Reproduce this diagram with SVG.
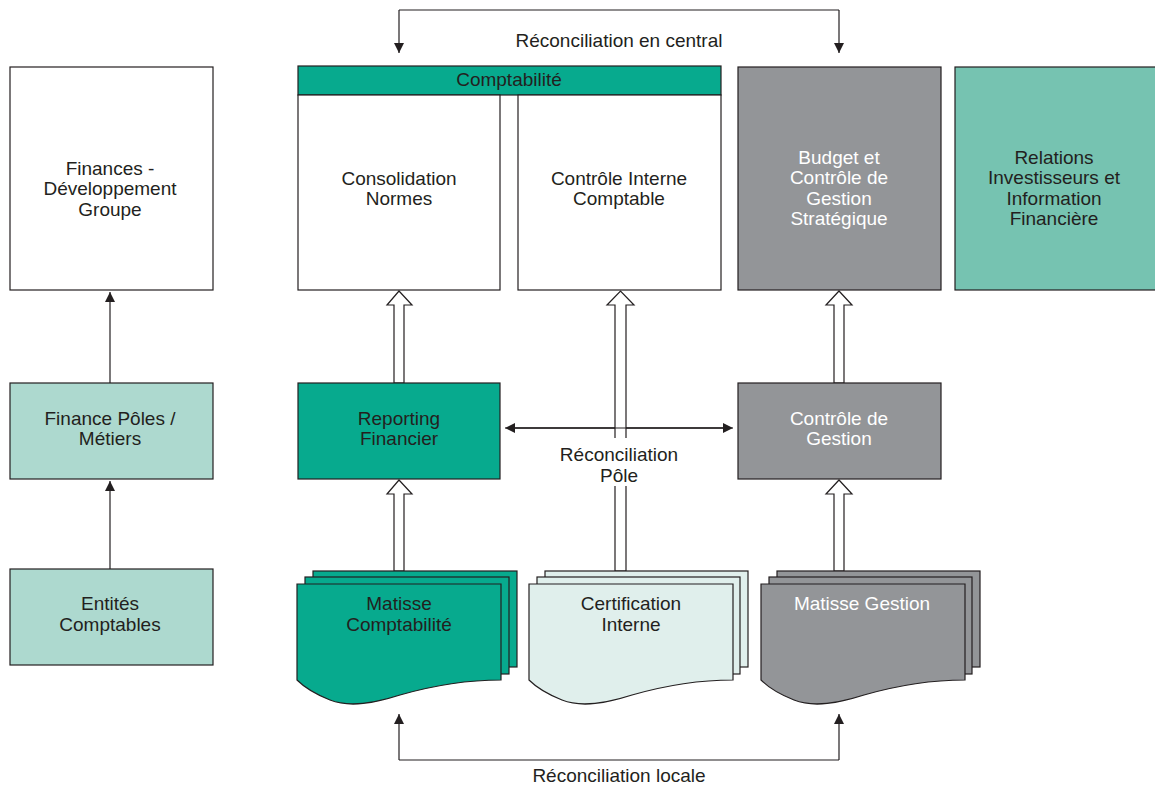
<svg xmlns="http://www.w3.org/2000/svg" width="1155" height="786" viewBox="0 0 1155 786">
<defs>
<style>
.box{stroke:#231F20;stroke-width:1.2}
.w{fill:#FFFFFF}
.teal{fill:#07AA8E}
.lt{fill:#ADD9CF}
.gray{fill:#939598}
.rel{fill:#76C3B1}
.cert{fill:#E0EFEC}
text{font-family:"Liberation Sans",Arial,sans-serif;font-size:19px;fill:#231F20;text-anchor:middle}
text.wt{fill:#FFFFFF}
.ln{stroke:#231F20;stroke-width:1.2;fill:none}
.hollow{fill:#FFFFFF;stroke:#231F20;stroke-width:1.2}
</style>
<marker id="ah" viewBox="0 0 10 10" refX="10" refY="5" markerWidth="10" markerHeight="10" markerUnits="userSpaceOnUse" orient="auto">
<path d="M0,0 L10,5 L0,10 Z" fill="#231F20"/>
</marker>
</defs>

<g id="connectors">
<path class="ln" d="M110,383 V292" marker-end="url(#ah)"/>
<path class="ln" d="M110,569 V481" marker-end="url(#ah)"/>
<path class="ln" d="M399,10 H839"/>
<path class="ln" d="M399,10 V53" marker-end="url(#ah)"/>
<path class="ln" d="M839,10 V53" marker-end="url(#ah)"/>
<path class="ln" d="M399,760 H839"/>
<path class="ln" d="M399,760 V714" marker-end="url(#ah)"/>
<path class="ln" d="M839,760 V714" marker-end="url(#ah)"/>
<path class="ln" d="M515,428 H733" marker-end="url(#ah)"/>
<path class="ln" d="M723,428 H505" marker-end="url(#ah)"/>
<path class="hollow" d="M394,383 V305 H387 L399,291 L412,305 H404 V383 Z"/>
<path class="hollow" d="M394,571 V494 H387 L399,480 L412,494 H404 V571 Z"/>
<path class="hollow" d="M615,571 V305 H607 L620.5,291 L634,305 H626 V571 Z"/>
<path class="hollow" d="M834,383 V305 H826 L839,291 L852,305 H844 V383 Z"/>
<path class="hollow" d="M834,571 V494 H826 L839,480 L852,494 H844 V571 Z"/>
<rect x="555" y="438" width="130" height="48" fill="#FFFFFF"/>
<path class="ln" d="M515,428 H723"/>
<text x="619" y="47">Réconciliation en central</text>
<text x="619" y="782">Réconciliation locale</text>
<text x="619" y="461">Réconciliation</text>
<text x="619" y="482">Pôle</text>
</g>

<g id="finances-dev">
<rect class="box w" x="10" y="67" width="203" height="223"/>
<text x="110" y="175">Finances -</text>
<text x="110" y="195">Développement</text>
<text x="110" y="216">Groupe</text>
</g>
<g id="finance-poles">
<rect class="box lt" x="10" y="383" width="203" height="96"/>
<text x="110" y="425">Finance Pôles /</text>
<text x="110" y="445">Métiers</text>
</g>
<g id="entites">
<rect class="box lt" x="10" y="569" width="203" height="96"/>
<text x="110" y="610">Entités</text>
<text x="110" y="631">Comptables</text>
</g>

<g id="comptabilite">
<rect class="box teal" x="298" y="66" width="423" height="29"/>
<text x="509" y="86">Comptabilité</text>
</g>
<g id="consolidation">
<rect class="box w" x="298" y="95" width="202" height="195"/>
<text x="399" y="185">Consolidation</text>
<text x="399" y="205">Normes</text>
</g>
<g id="controle-interne">
<rect class="box w" x="518" y="95" width="203" height="195"/>
<text x="619" y="185">Contrôle Interne</text>
<text x="619" y="205">Comptable</text>
</g>
<g id="budget">
<rect class="box gray" x="738" y="67" width="203" height="223"/>
<text class="wt" x="839" y="164">Budget et</text>
<text class="wt" x="839" y="184">Contrôle de</text>
<text class="wt" x="839" y="205">Gestion</text>
<text class="wt" x="839" y="225">Stratégique</text>
</g>
<g id="relations">
<rect class="box rel" x="955" y="67" width="203" height="223"/>
<text x="1054" y="164">Relations</text>
<text x="1054" y="184">Investisseurs et</text>
<text x="1054" y="205">Information</text>
<text x="1054" y="225">Financière</text>
</g>

<g id="reporting">
<rect class="box teal" x="298" y="383" width="202" height="96"/>
<text x="399" y="425">Reporting</text>
<text x="399" y="445">Financier</text>
</g>
<g id="controle-gestion">
<rect class="box gray" x="738" y="383" width="203" height="96"/>
<text class="wt" x="839" y="425">Contrôle de</text>
<text class="wt" x="839" y="445">Gestion</text>
</g>

<g id="matisse-compta">
<rect class="box teal" x="313" y="571" width="204" height="96"/>
<rect class="box teal" x="305" y="577" width="204" height="97"/>
<path class="box teal" d="M297,584 H501 V680 C470,680 435,685 400,695 C375,703 350,708 330,700 C315,694 303,686 297,680 Z"/>
<text x="399" y="610">Matisse</text>
<text x="399" y="631">Comptabilité</text>
</g>
<g id="certification">
<rect class="box cert" x="545" y="571" width="203" height="96"/>
<rect class="box cert" x="537" y="577" width="203" height="97"/>
<path class="box cert" d="M529,584 H733 V680 C702,680 667,685 632,695 C607,703 582,708 562,700 C547,694 535,686 529,680 Z"/>
<text x="631" y="610">Certification</text>
<text x="631" y="631">Interne</text>
</g>
<g id="matisse-gestion">
<rect class="box gray" x="777" y="571" width="203" height="96"/>
<rect class="box gray" x="769" y="577" width="203" height="97"/>
<path class="box gray" d="M761,584 H965 V680 C934,680 899,685 864,695 C839,703 814,708 794,700 C779,694 767,686 761,680 Z"/>
<text class="wt" x="862" y="610">Matisse Gestion</text>
</g>
</svg>
